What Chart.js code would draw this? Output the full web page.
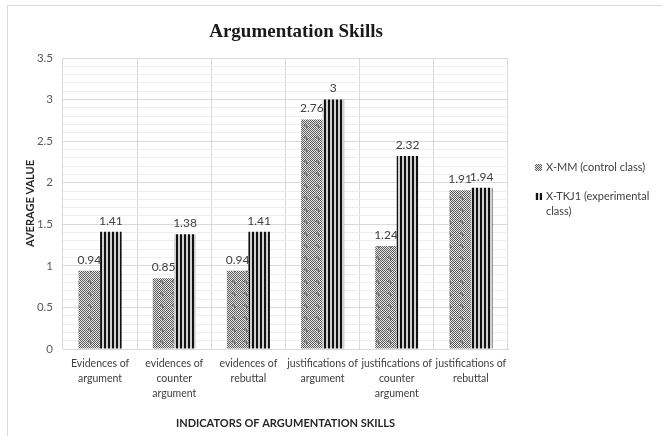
<!DOCTYPE html>
<html>
<head>
<meta charset="utf-8">
<script src="https://cdn.jsdelivr.net/npm/chart.js@4/dist/chart.umd.min.js"></script>
<style>
    html, body { margin: 0; padding: 0; background: #fff; }
    #wrap { width: 662px; height: 436px; position: relative; }
</style>
</head>
<body>
<div id="wrap"><canvas id="grafico" width="662" height="436"></canvas></div>
<script>
const CATEGORIAS = [
    ['Evidences of', 'argument'],
    ['evidences of', 'counter', 'argument'],
    ['evidences of', 'rebuttal'],
    ['justifications of', 'argument'],
    ['justifications of', 'counter', 'argument'],
    ['justifications of', 'rebuttal']
];
const CONTROL = [0.94, 0.85, 0.94, 2.76, 1.24, 1.91];
const EXPERIMENTAL = [1.41, 1.38, 1.41, 3, 2.32, 1.94];
const LEYENDA = [
    ['X-MM (control class)'],
    ['X-TKJ1 (experimental', 'class)']
];
const TITULO = 'Argumentation Skills';

const FUENTE = 'Lato, "Open Sans", sans-serif';
const TEXTO = '#404040';

// trama punteada gris para la clase de control
function tramaPuntos() {
    const c = document.createElement('canvas');
    c.width = 12; c.height = 12;
    const g = c.getContext('2d');
    for (let y = 0; y < 12; y++) {
        for (let x = 0; x < 12; x++) {
            const d = Math.abs(x - 5.5) + Math.abs(y - 5.5);
            let col = (x + y) % 2 === 0 ? '#5a5a5a' : '#e6e6e6';
            if (d < 3) col = (x % 2 === 0) ? '#777' : '#999';
            g.fillStyle = col;
            g.fillRect(x, y, 1, 1);
        }
    }
    return g.createPattern(c, 'repeat');
}

// rayas verticales para la clase experimental
function tramaRayas() {
    const c = document.createElement('canvas');
    c.width = 4; c.height = 4;
    const g = c.getContext('2d');
    g.fillStyle = '#d0d0d0';
    g.fillRect(0, 0, 4, 4);
    g.fillStyle = '#111';
    g.fillRect(0, 0, 2, 4);
    return g.createPattern(c, 'repeat');
}

const trama1 = tramaPuntos();
const trama2 = tramaRayas();

const extras = {
    id: 'extras',
    beforeDraw(chart) {
        const ctx = chart.ctx;
        ctx.save();
        ctx.fillStyle = '#fff';
        ctx.fillRect(0, 0, chart.width, chart.height);
        ctx.strokeStyle = '#d9d9d9';
        ctx.lineWidth = 1;
        ctx.strokeRect(7.5, 5.5, chart.width + 10, chart.height + 10);
        ctx.restore();
    },
    afterDraw(chart) {
        const ctx = chart.ctx;
        ctx.save();
        // titulo
        ctx.fillStyle = '#1a1a1a';
        ctx.font = 'bold 19px "Liberation Serif", serif';
        ctx.textAlign = 'center';
        ctx.textBaseline = 'middle';
        ctx.fillText(TITULO, 296, 32);

        // etiquetas de valor
        ctx.font = '12px ' + FUENTE;
        ctx.fillStyle = TEXTO;
        ctx.textBaseline = 'bottom';
        chart.data.datasets.forEach((ds, i) => {
            chart.getDatasetMeta(i).data.forEach((bar, j) => {
                ctx.fillText(String(ds.data[j]), bar.x, bar.y - 5);
            });
        });

        // leyenda
        ctx.textAlign = 'left';
        ctx.textBaseline = 'middle';
        ctx.font = '11px ' + FUENTE;
        const ys = [167, 196];
        chart.data.datasets.forEach((ds, i) => {
            ctx.fillStyle = ds.backgroundColor;
            ctx.fillRect(535, ys[i] - 3, 7, 7);
            ctx.fillStyle = TEXTO;
            LEYENDA[i].forEach((linea, k) => {
                ctx.fillText(linea, 546, ys[i] + k * 15);
            });
        });
        ctx.restore();
    }
};

new Chart(document.getElementById('grafico'), {
    type: 'bar',
    data: {
        labels: CATEGORIAS,
        datasets: [
            {
                label: LEYENDA[0].join(' '),
                data: CONTROL,
                backgroundColor: trama1,
                borderWidth: 0
            },
            {
                label: LEYENDA[1].join(' '),
                data: EXPERIMENTAL,
                backgroundColor: trama2,
                borderWidth: 0
            }
        ]
    },
    options: {
        responsive: false,
        animation: false,
        layout: { padding: { top: 58, right: 154, left: 24, bottom: 6 } },
        datasets: { bar: { barPercentage: 1, categoryPercentage: 0.58 } },
        plugins: {
            legend: { display: false },
            title: { display: false },
            tooltip: { enabled: false }
        },
        scales: {
            x: {
                grid: { color: '#d9d9d9', drawTicks: false },
                border: { color: '#d9d9d9' },
                ticks: {
                    color: TEXTO,
                    font: { family: FUENTE, size: 10.5, lineHeight: 1.45 },
                    padding: 7,
                    maxRotation: 0,
                    autoSkip: false
                },
                title: {
                    display: true,
                    text: 'INDICATORS OF ARGUMENTATION SKILLS',
                    color: '#262626',
                    font: { family: FUENTE, size: 11, weight: 'bold' },
                    padding: { top: 4, bottom: 0 }
                },
                afterFit: scale => { scale.height = 81; }
            },
            y: {
                min: 0,
                max: 3.5,
                grid: {
                    drawTicks: false,
                    color: ctx => {
                        const v = Math.round(ctx.tick.value * 10);
                        return v % 5 === 0 ? '#d9d9d9' : '#eeeeee';
                    }
                },
                border: { display: false },
                ticks: {
                    stepSize: 0.1,
                    autoSkip: false,
                    color: '#595959',
                    font: { family: FUENTE, size: 11.5 },
                    padding: 10,
                    callback: v => {
                        const r = Math.round(v * 10);
                        return r % 5 === 0 ? String(r / 10) : '';
                    }
                },
                title: {
                    display: true,
                    text: 'AVERAGE VALUE',
                    color: '#262626',
                    font: { family: FUENTE, size: 11, weight: 'bold' },
                    padding: { top: 0, bottom: 4 }
                },
                afterFit: scale => { scale.width = 39; }
            }
        }
    },
    plugins: [extras]
});
</script>
</body>
</html>
